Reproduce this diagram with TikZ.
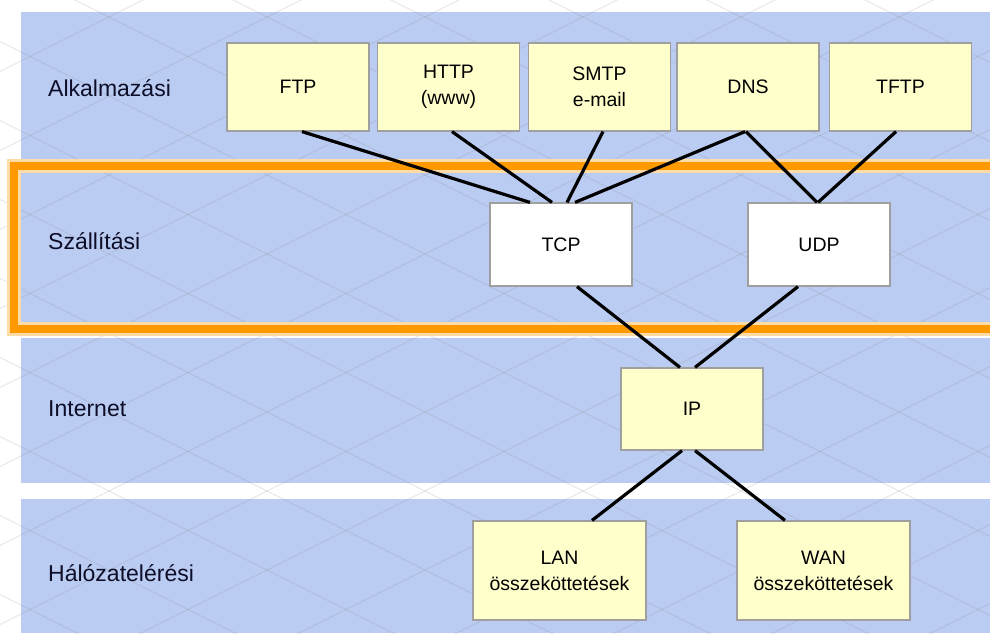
\documentclass[tikz,border=0pt]{standalone}
\usepackage{fontspec}
\setmainfont{Liberation Sans}
\usepackage{tikz}
\definecolor{bandblue}{RGB}{186,204,242}
\definecolor{boxyellow}{RGB}{255,255,204}
\definecolor{hlorange}{RGB}{255,153,0}
\definecolor{labelnavy}{RGB}{14,14,40}

\begin{document}
\begin{tikzpicture}[x=1pt,y=-1pt,
    band/.style={fill=bandblue},
    lattice/.style={gray,opacity=.22,line width=.8pt},
    layer/.style={anchor=west,inner sep=0pt,text=labelnavy,font=\fontsize{23}{27}\selectfont},
    proto/.style={draw=gray!75,line width=1.2pt,fill=boxyellow,align=center,
        minimum width=142pt,minimum height=88pt,inner sep=2pt,
        font=\fontsize{19.5}{26}\selectfont},
    transport/.style={proto,fill=white,minimum height=83pt},
    link/.style={line width=3.2pt}
]
\useasboundingbox (0,0) rectangle (990,633);
\clip (0,0) rectangle (990,633);

% layer bands
\fill[band] (21,12) rectangle (990,163);
\fill[band] (21,172) rectangle (990,323);
\fill[band] (21,338) rectangle (990,483);
\fill[band] (21,499) rectangle (990,633);

% background lattice
\foreach \k in {-7,...,8} {
    \draw[lattice] (0,41.5+79*\k) -- (990,536.5+79*\k);
}
\foreach \k in {0,...,15} {
    \draw[lattice] (0,71.5+79*\k) -- (990,-423.5+79*\k);
}

% highlighted transport layer
\draw[hlorange!35,line width=14pt] (14,166) rectangle (1010,329);
\draw[hlorange,line width=8.5pt] (14,166) rectangle (1010,329);

\node[layer] (lapp) at (48,88) {Alkalmazási};
\node[layer] (ltr) at (48,241) {Szállítási};
\node[layer] (lnet) at (48,409) {Internet};
\node[layer] (lacc) at (48,573) {Hálózatelérési};

\node[proto] (ftp) at (298,87) {FTP};
\node[proto] (http) at (448.5,87) {HTTP\\(www)};
\node[proto] (smtp) at (599.5,87) {SMTP\\e-mail};
\node[proto] (dns) at (748,87) {DNS};
\node[proto] (tftp) at (900.5,87) {TFTP};

\node[transport] (tcp) at (561,244.5) {TCP};
\node[transport] (udp) at (819,244.5) {UDP};

\node[proto,minimum height=82pt] (ip) at (692,409) {IP};

\node[proto,minimum width=173pt,minimum height=99pt] (lan) at (559.5,570.5) {LAN\\összeköttetések};
\node[proto,minimum width=173pt,minimum height=99pt] (wan) at (823.5,570.5) {WAN\\összeköttetések};

\draw[link] ([xshift=4pt]ftp.south) -- ([xshift=-31pt]tcp.north);
\draw[link] ([xshift=3.5pt]http.south) -- ([xshift=-9pt]tcp.north);
\draw[link] ([xshift=3.5pt]smtp.south) -- ([xshift=6pt]tcp.north);
\draw[link] ([xshift=-3pt]dns.south) -- ([xshift=14pt]tcp.north);
\draw[link] ([xshift=-2pt]dns.south) -- ([xshift=-2pt]udp.north);
\draw[link] ([xshift=-4.5pt]tftp.south) -- ([xshift=-1pt]udp.north);
\draw[link] ([xshift=16pt]tcp.south) -- ([xshift=-12pt]ip.north);
\draw[link] ([xshift=-21pt]udp.south) -- ([xshift=3pt]ip.north);
\draw[link] ([xshift=-10pt]ip.south) -- ([xshift=32.5pt]lan.north);
\draw[link] ([xshift=3pt]ip.south) -- ([xshift=-38.5pt]wan.north);

\end{tikzpicture}
\end{document}
